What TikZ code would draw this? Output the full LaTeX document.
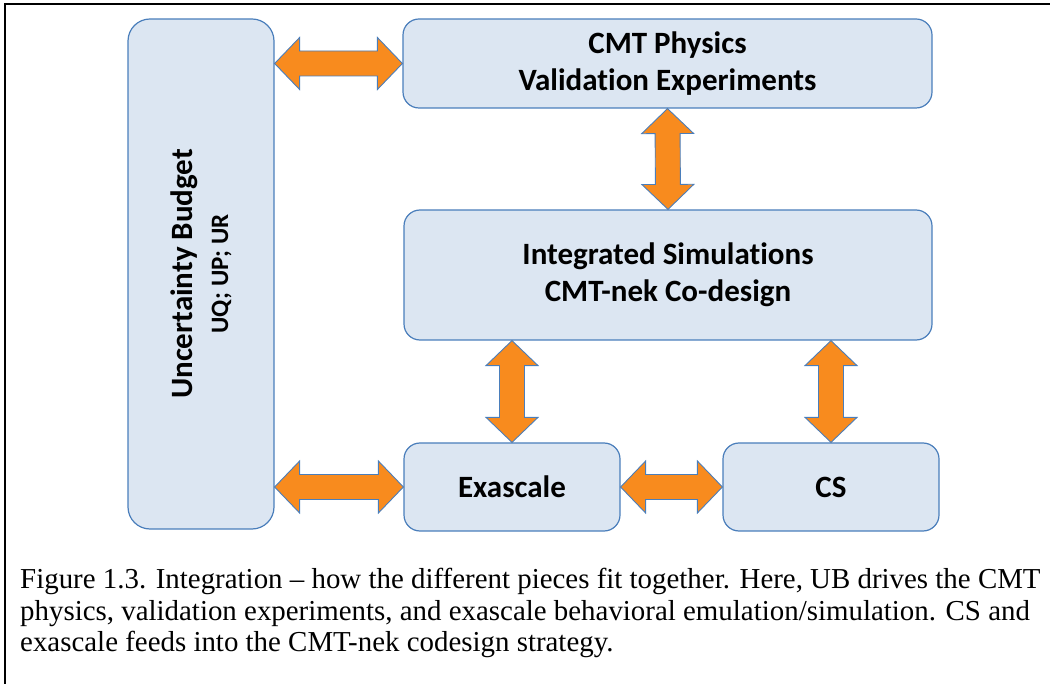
\documentclass[tikz,border=0pt]{standalone}
\usepackage{fontspec}
\usetikzlibrary{calc}
\newfontfamily\boxfont[Ligatures=NoCommon]{Carlito}
\newfontfamily\capfont[Ligatures=TeX]{Liberation Serif}
\definecolor{boxfill}{HTML}{DCE6F2}
\definecolor{boxline}{HTML}{4A7EBB}
\definecolor{arrfill}{HTML}{F88B1E}
\definecolor{arrline}{HTML}{4A7EBB}

\begin{document}
\begin{tikzpicture}[
    x=1pt, y=-1pt,
    box/.style={draw=boxline, fill=boxfill, line width=1.2pt, rounded corners=16pt,
      align=center, inner sep=0pt, font=\boxfont\bfseries\fontsize{31}{37}\selectfont},
    dblarr/.style={draw=arrline, fill=arrfill, line width=0.9pt, line join=miter,
      to path={
        -- ($(\tikztostart)!25pt!(\tikztotarget)!26pt!90:(\tikztotarget)$)
        -- ($(\tikztostart)!25pt!(\tikztotarget)!12.5pt!90:(\tikztotarget)$)
        -- ($(\tikztotarget)!25pt!(\tikztostart)!12.5pt!-90:(\tikztostart)$)
        -- ($(\tikztotarget)!25pt!(\tikztostart)!26pt!-90:(\tikztostart)$)
        -- (\tikztotarget)
        -- ($(\tikztotarget)!25pt!(\tikztostart)!26pt!90:(\tikztostart)$)
        -- ($(\tikztotarget)!25pt!(\tikztostart)!12.5pt!90:(\tikztostart)$)
        -- ($(\tikztostart)!25pt!(\tikztotarget)!12.5pt!-90:(\tikztotarget)$)
        -- ($(\tikztostart)!25pt!(\tikztotarget)!26pt!-90:(\tikztotarget)$)
        -- cycle}}
  ]
  \useasboundingbox (0,0) rectangle (1050,684);

  % frame
  \draw[line width=2pt] (5,684) -- (5,4) -- (1050,4);

  \node[box, font=\boxfont\bfseries\fontsize{31}{36}\selectfont, rotate=90, minimum width=510pt, minimum height=146pt,
    rounded corners=22pt] (ub) at (201,274)
    {Uncertainty Budget\\ {\fontsize{25}{30}\selectfont UQ; UP; UR}};

  \node[box, minimum width=529pt, minimum height=89pt] (cmt) at (667.5,63.5) {CMT Physics\\ Validation Experiments};
  \node[box, minimum width=528pt, minimum height=130pt] (integ) at (668,275) {Integrated Simulations\\ CMT-nek Co-design};
  \node[box, minimum width=216pt, minimum height=88pt] (exa) at (512,487) {Exascale};
  \node[box, minimum width=216pt, minimum height=88pt] (cs) at (831,487) {CS};

  \draw[dblarr] (cmt.west -| ub.south) to (cmt.west);
  \draw[dblarr] (cmt.south) to (integ.north);
  \draw[dblarr] (exa.north |- integ.south) to (exa.north);
  \draw[dblarr] (cs.north |- integ.south) to (cs.north);
  \draw[dblarr] (exa.west -| ub.south) to (exa.west);
  \draw[dblarr] (exa.east) to (cs.west);

  \node[anchor=north west, inner sep=0pt, align=left, font=\capfont\fontsize{28.9}{31.5}\selectfont] (caption) at (20,568)
    {Figure 1.3. Integration -- how the different pieces fit together. Here, UB drives the CMT\\
     physics, validation experiments, and exascale behavioral emulation/simulation. CS and\\
     exascale feeds into the CMT-nek codesign strategy.};
\end{tikzpicture}
\end{document}
